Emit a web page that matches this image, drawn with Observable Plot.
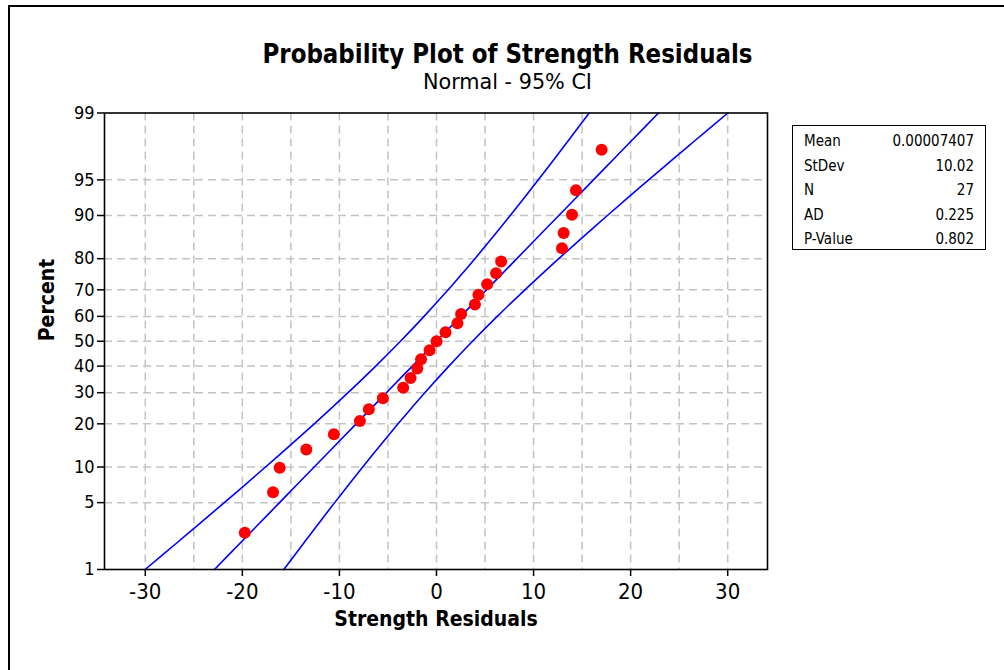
<!DOCTYPE html>
<html>
<head>
<meta charset="utf-8">
<script src="https://cdn.jsdelivr.net/npm/d3@7"></script>
<script src="https://cdn.jsdelivr.net/npm/@observablehq/plot@0.6"></script>
<style>
  html, body { margin: 0; padding: 0; background: #fff; }
  body { width: 1004px; height: 670px; overflow: hidden; position: relative;
         font-family: "DejaVu Sans Condensed", "DejaVu Sans", sans-serif; }
  #border { position: absolute; left: 8px; top: 5px; width: 1100px; height: 800px;
            border-left: 2px solid #000; border-top: 2px solid #000; }
  #chart { position: absolute; left: 0; top: 0; }
  #head { position: absolute; left: 0; top: 0; }
  #stats { position: absolute; left: 792px; top: 125px; width: 194px; height: 125px;
           border: 1.5px solid #000; box-sizing: border-box; padding: 3px 11px 0 11px;
           font-size: 15px; color: #000; }
  #stats .row { display: flex; justify-content: space-between; height: 24.5px; line-height: 24.5px; }
</style>
</head>
<body>
<div id="border"></div>
<div id="chart"></div>
<svg id="head" width="1004" height="100"></svg>
<div id="stats"></div>
<script>
// ---------- data ----------
const titleText = "Probability Plot of Strength Residuals";
const subtitleText = "Normal - 95% CI";
const xLabel = "Strength Residuals";
const yLabel = "Percent";

// residuals (sorted) and their plotting percents
const residuals = [-19.75, -16.84, -16.15, -13.41, -10.57, -7.89, -6.97, -5.52, -3.43, -2.67,
                   -1.98, -1.59, -0.71, 0.01, 0.93, 2.16, 2.54, 3.96, 4.32, 5.22,
                   6.14, 6.66, 12.93, 13.10, 13.96, 14.37, 17.01];
const percents = [2.55, 6.20, 9.85, 13.50, 17.15, 20.80, 24.45, 28.10, 31.75, 35.40,
                  39.05, 42.70, 46.35, 50.00, 53.65, 57.30, 60.95, 64.60, 68.25, 71.90,
                  75.55, 79.20, 82.85, 86.50, 90.15, 93.80, 97.45];

// fitted line and 95% CI bands
const curvePct = [1, 2, 3, 5, 7, 10, 15, 20, 25, 30, 40, 50, 60, 70, 75, 80, 85, 90, 93, 95, 97, 98, 99];
const ciLower = [-30.01, -26.73, -24.67, -21.86, -19.87, -17.61, -14.79, -12.59, -10.74, -9.11, -6.26, -3.71,
                 -1.28, 1.20, 2.52, 3.96, 5.59, 7.60, 9.15, 10.49, 12.32, 13.65, 15.73];
const fitLine = [-22.87, -20.19, -18.49, -16.17, -14.51, -12.60, -10.19, -8.28, -6.63, -5.16, -2.49, 0,
                 2.49, 5.16, 6.63, 8.28, 10.19, 12.60, 14.51, 16.17, 18.49, 20.19, 22.87];
const ciUpper = [-15.73, -13.65, -12.32, -10.49, -9.15, -7.60, -5.59, -3.96, -2.52, -1.20, 1.28, 3.71,
                 6.26, 9.11, 10.74, 12.59, 14.79, 17.61, 19.87, 21.86, 24.67, 26.73, 30.01];

const xTicks = [-30, -20, -10, 0, 10, 20, 30];
const xGrid = [-30, -25, -20, -15, -10, -5, 0, 5, 10, 15, 20, 25, 30];
const yTicks = [1, 5, 10, 20, 30, 40, 50, 60, 70, 80, 90, 95, 99];
const yGrid = [5, 10, 20, 30, 40, 50, 60, 70, 80, 90, 95];

const statLabels = ["Mean", "StDev", "N", "AD", "P-Value"];
const statValues = ["0.00007407", "10.02", "27", "0.225", "0.802"];

// ---------- normal probability scale (inverse normal CDF) ----------
function probit(p) {
  const a = [-3.969683028665376e+01, 2.209460984245205e+02, -2.759285104469687e+02, 1.383577518672690e+02, -3.066479806614716e+01, 2.506628277459239e+00];
  const b = [-5.447609879822406e+01, 1.615858368580409e+02, -1.556989798598866e+02, 6.680131188771972e+01, -1.328068155288572e+01];
  const c = [-7.784894002430293e-03, -3.223964580411365e-01, -2.400758277161838e+00, -2.549732539343734e+00, 4.374664141464968e+00, 2.938163982698783e+00];
  const d = [7.784695709041462e-03, 3.224671290700398e-01, 2.445134137142996e+00, 3.754408661907416e+00];
  const pl = 0.02425, ph = 1 - pl;
  let q, r;
  if (p < pl) {
    q = Math.sqrt(-2 * Math.log(p));
    return (((((c[0]*q+c[1])*q+c[2])*q+c[3])*q+c[4])*q+c[5]) / ((((d[0]*q+d[1])*q+d[2])*q+d[3])*q+1);
  }
  if (p <= ph) {
    q = p - 0.5; r = q * q;
    return (((((a[0]*r+a[1])*r+a[2])*r+a[3])*r+a[4])*r+a[5])*q / (((((b[0]*r+b[1])*r+b[2])*r+b[3])*r+b[4])*r+1);
  }
  q = Math.sqrt(-2 * Math.log(1 - p));
  return -(((((c[0]*q+c[1])*q+c[2])*q+c[3])*q+c[4])*q+c[5]) / ((((d[0]*q+d[1])*q+d[2])*q+d[3])*q+1);
}
const Z = pct => probit(pct / 100);

// ---------- build tables ----------
const points = residuals.map((x, i) => ({x, p: percents[i]}));
const curves = [];
[["lower", ciLower], ["fit", fitLine], ["upper", ciUpper]].forEach(([s, arr]) => {
  arr.forEach((x, i) => curves.push({s, x, p: curvePct[i]}));
});
const yTickZ = yTicks.map(Z);
const yLabelMap = new Map(yTickZ.map((z, i) => [z, String(yTicks[i])]));

const font = "'DejaVu Sans Condensed', 'DejaVu Sans', sans-serif";

const chart = Plot.plot({
  width: 1004,
  height: 670,
  marginLeft: 104,
  marginRight: 237,
  marginTop: 112.5,
  marginBottom: 101,
  style: {fontFamily: font, background: "transparent", color: "#000"},
  x: {domain: [-34.2, 34.1]},
  y: {domain: [Z(1), Z(99)]},
  marks: [
    Plot.ruleX(xGrid, {stroke: "#c3c3c3", strokeWidth: 1.5, strokeDasharray: "8,5"}),
    Plot.ruleY(yGrid.map(Z), {stroke: "#c3c3c3", strokeWidth: 1.5, strokeDasharray: "8,5"}),
    Plot.line(curves, {x: "x", y: d => Z(d.p), z: "s", stroke: "#0000ff", strokeWidth: 1.6, curve: "catmull-rom"}),
    Plot.dot(points, {x: "x", y: d => Z(d.p), r: 6, fill: "#ff0000"}),
    Plot.frame({stroke: "#000", strokeWidth: 1.6}),
    Plot.axisX(xTicks, {tickSize: 7, tickPadding: 7, fontSize: 22, label: null, stroke: "#000", strokeWidth: 1.5,
                        tickFormat: d => String(d)}),
    Plot.axisY(yTickZ, {tickSize: 7, tickPadding: 3, fontSize: 18, label: null, stroke: "#000", strokeWidth: 1.5,
                        tickFormat: z => yLabelMap.get(z)}),
    Plot.text([xLabel], {frameAnchor: "bottom", dy: 56, fontSize: 21, fontWeight: "bold"}),
    Plot.text([yLabel], {frameAnchor: "left", dx: -57, rotate: -90, fontSize: 21, fontWeight: "bold"})
  ]
});
document.getElementById("chart").appendChild(chart);

// ---------- title ----------
const head = d3.select("#head");
head.append("text").attr("x", 507.5).attr("y", 63).attr("text-anchor", "middle")
  .attr("font-family", font).attr("font-weight", "bold").attr("font-size", 27)
  .attr("textLength", 490).attr("lengthAdjust", "spacingAndGlyphs").text(titleText);
head.append("text").attr("x", 507.5).attr("y", 89).attr("text-anchor", "middle")
  .attr("font-family", font).attr("font-size", 21)
  .attr("textLength", 169).attr("lengthAdjust", "spacingAndGlyphs").text(subtitleText);

// ---------- stats box ----------
const stats = d3.select("#stats");
statLabels.forEach((l, i) => {
  const row = stats.append("div").attr("class", "row");
  row.append("span").text(l);
  row.append("span").text(statValues[i]);
});
</script>
</body>
</html>
